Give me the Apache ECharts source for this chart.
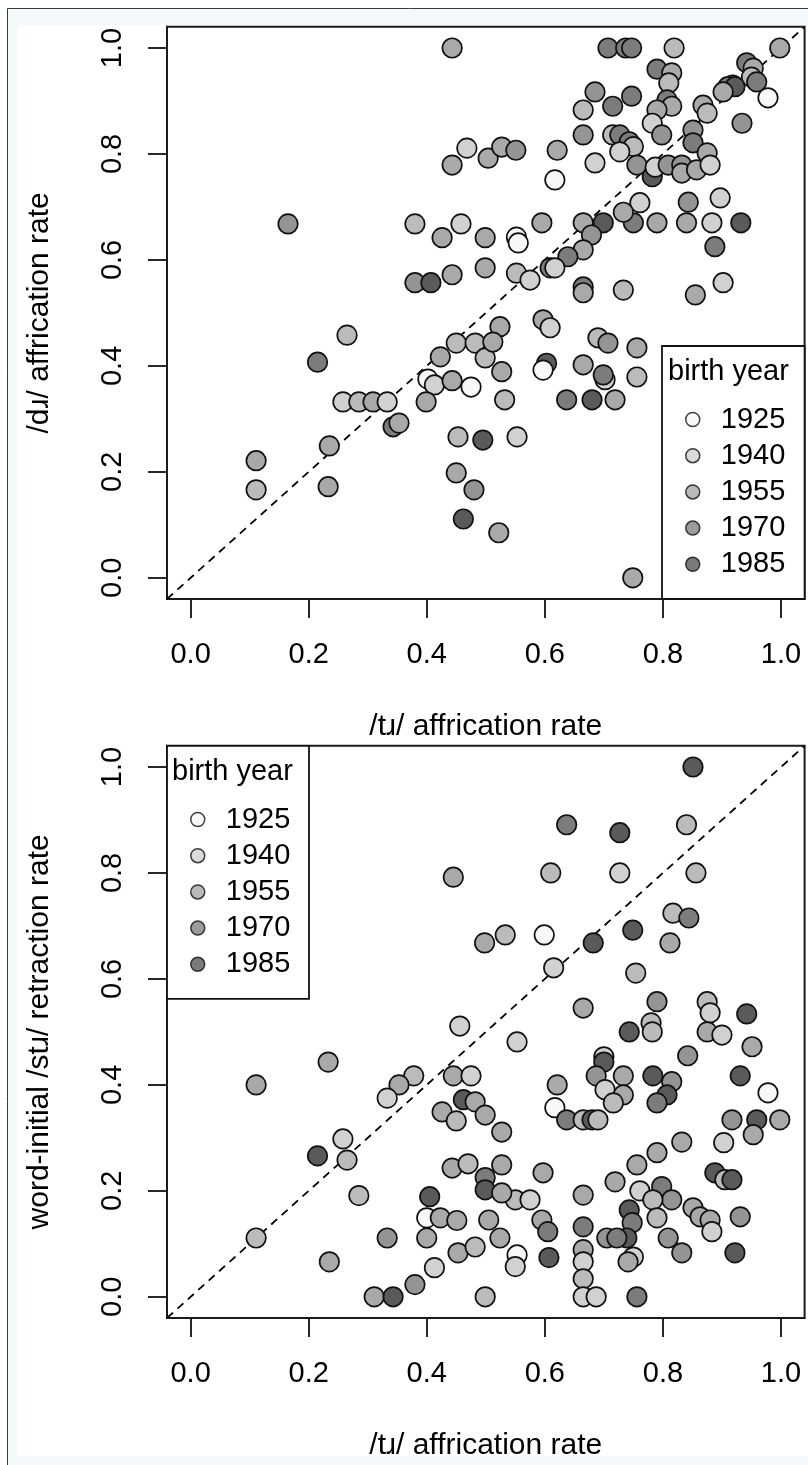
<!DOCTYPE html>
<html><head><meta charset="utf-8">
<script src="https://cdn.jsdelivr.net/npm/echarts@6/dist/echarts.min.js"></script>
<style>html,body{margin:0;padding:0;background:#fff}#c{width:808px;height:1465px}</style>
</head><body><div id="c"></div><script>
// ---- data ----
const tickValues = [0, 0.2, 0.4, 0.6, 0.8, 1.0];
const legendYears = [1925, 1940, 1955, 1970, 1985];
const xTitle = '/tɹ/ affrication rate';
const yTitleTop = '/dɹ/ affrication rate';
const yTitleBottom = 'word-initial /stɹ/ retraction rate';
const legendTitle = 'birth year';

// top panel: /tɹ/ rate (x), /dɹ/ rate (y), birth year
const topX = [0.443,0.468,0.443,0.504,0.165,0.380,0.426,0.458,0.499,0.380,0.407,0.443,0.499,0.707,0.737,0.747,0.819,0.998,0.790,0.815,0.810,0.942,0.953,0.950,0.959,0.918,0.910,0.922,0.902,0.978,0.685,0.747,0.665,0.715,0.807,0.815,0.790,0.782,0.798,0.868,0.875,0.934,0.665,0.715,0.727,0.743,0.750,0.727,0.851,0.851,0.875,0.756,0.782,0.787,0.809,0.832,0.832,0.857,0.880,0.685,0.527,0.551,0.621,0.617,0.897,0.843,0.595,0.665,0.699,0.750,0.790,0.840,0.883,0.932,0.761,0.733,0.888,0.679,0.665,0.639,0.552,0.555,0.552,0.575,0.609,0.617,0.665,0.665,0.733,0.855,0.902,0.597,0.609,0.265,0.215,0.258,0.285,0.309,0.333,0.343,0.353,0.235,0.111,0.111,0.233,0.423,0.450,0.482,0.499,0.402,0.413,0.443,0.475,0.399,0.453,0.495,0.450,0.480,0.462,0.522,0.524,0.690,0.707,0.756,0.512,0.527,0.603,0.597,0.665,0.702,0.699,0.756,0.532,0.637,0.680,0.719,0.553,0.749];
const topY = [1.000,0.811,0.779,0.792,0.668,0.668,0.642,0.668,0.642,0.557,0.557,0.572,0.585,1.000,1.000,1.000,1.000,1.000,0.960,0.953,0.934,0.972,0.962,0.945,0.936,0.930,0.927,0.927,0.917,0.906,0.917,0.909,0.883,0.890,0.902,0.890,0.883,0.858,0.836,0.892,0.877,0.858,0.836,0.836,0.836,0.823,0.814,0.804,0.845,0.821,0.802,0.779,0.757,0.775,0.779,0.779,0.764,0.770,0.779,0.783,0.813,0.807,0.807,0.751,0.717,0.709,0.670,0.670,0.670,0.670,0.670,0.670,0.670,0.670,0.708,0.690,0.625,0.647,0.619,0.606,0.643,0.632,0.575,0.562,0.585,0.585,0.549,0.538,0.543,0.534,0.557,0.487,0.472,0.458,0.407,0.332,0.332,0.332,0.332,0.285,0.292,0.249,0.221,0.166,0.172,0.417,0.443,0.443,0.415,0.375,0.364,0.372,0.360,0.332,0.266,0.260,0.198,0.166,0.111,0.085,0.474,0.453,0.443,0.434,0.445,0.389,0.405,0.392,0.402,0.374,0.383,0.379,0.336,0.336,0.336,0.336,0.266,0.000];
const topYear = [1955,1940,1955,1955,1963,1948,1955,1940,1955,1963,1985,1955,1955,1972,1972,1972,1948,1955,1972,1955,1948,1972,1955,1948,1972,1955,1972,1985,1955,1925,1963,1972,1948,1972,1972,1955,1955,1940,1963,1955,1948,1963,1963,1948,1972,1972,1948,1940,1963,1972,1955,1963,1985,1940,1963,1963,1955,1955,1940,1940,1955,1963,1955,1925,1940,1963,1955,1955,1985,1972,1955,1955,1940,1985,1940,1955,1972,1963,1955,1972,1925,1925,1948,1940,1972,1940,1972,1955,1948,1955,1940,1955,1940,1948,1972,1940,1948,1955,1940,1972,1955,1955,1955,1948,1955,1955,1948,1948,1948,1925,1940,1955,1925,1955,1948,1985,1955,1963,1985,1955,1955,1948,1963,1955,1955,1955,1985,1925,1955,1940,1972,1948,1948,1972,1985,1955,1940,1955];

// bottom panel: /tɹ/ rate (x), /stɹ/ retraction rate (y), birth year
const botX = [0.445,0.498,0.851,0.637,0.727,0.840,0.610,0.727,0.856,0.817,0.844,0.533,0.599,0.682,0.749,0.812,0.615,0.754,0.665,0.790,0.875,0.880,0.942,0.456,0.233,0.111,0.378,0.353,0.333,0.445,0.475,0.462,0.482,0.426,0.450,0.499,0.258,0.265,0.215,0.285,0.443,0.470,0.499,0.499,0.405,0.400,0.423,0.451,0.505,0.333,0.400,0.453,0.482,0.111,0.235,0.413,0.380,0.311,0.343,0.499,0.743,0.780,0.782,0.875,0.900,0.951,0.553,0.842,0.700,0.700,0.687,0.733,0.702,0.733,0.716,0.783,0.815,0.807,0.790,0.931,0.978,0.621,0.617,0.637,0.665,0.680,0.690,0.917,0.959,0.998,0.953,0.903,0.832,0.790,0.756,0.719,0.761,0.798,0.815,0.783,0.888,0.905,0.917,0.851,0.863,0.880,0.883,0.931,0.922,0.832,0.809,0.790,0.743,0.748,0.739,0.705,0.722,0.750,0.741,0.756,0.665,0.665,0.665,0.665,0.665,0.665,0.687,0.607,0.597,0.550,0.575,0.527,0.527,0.524,0.595,0.605,0.553,0.550,0.527];
const botY = [0.792,0.668,1.000,0.891,0.876,0.891,0.800,0.800,0.800,0.724,0.715,0.683,0.683,0.668,0.692,0.668,0.621,0.611,0.545,0.557,0.557,0.536,0.534,0.511,0.443,0.400,0.417,0.400,0.375,0.417,0.417,0.372,0.368,0.349,0.332,0.343,0.298,0.258,0.266,0.191,0.243,0.251,0.225,0.202,0.189,0.149,0.149,0.144,0.145,0.111,0.111,0.083,0.094,0.111,0.066,0.055,0.023,0.000,0.000,0.000,0.500,0.517,0.500,0.500,0.494,0.472,0.481,0.455,0.453,0.443,0.417,0.417,0.391,0.381,0.366,0.417,0.406,0.381,0.366,0.417,0.385,0.400,0.357,0.334,0.334,0.334,0.334,0.334,0.334,0.334,0.306,0.291,0.292,0.272,0.249,0.217,0.200,0.208,0.183,0.183,0.234,0.221,0.221,0.168,0.151,0.145,0.123,0.151,0.083,0.083,0.111,0.149,0.164,0.140,0.111,0.111,0.111,0.075,0.066,0.000,0.192,0.132,0.089,0.066,0.034,0.000,0.000,0.074,0.234,0.183,0.183,0.196,0.249,0.111,0.145,0.123,0.079,0.057,0.311];
const botYear = [1955,1955,1985,1972,1985,1948,1948,1940,1948,1948,1972,1948,1925,1985,1985,1955,1940,1948,1955,1963,1948,1940,1985,1940,1955,1955,1948,1955,1940,1955,1940,1985,1955,1955,1948,1955,1940,1948,1985,1948,1955,1948,1972,1985,1985,1925,1955,1955,1955,1963,1955,1955,1948,1948,1955,1940,1963,1955,1985,1948,1985,1948,1948,1955,1940,1955,1940,1963,1940,1985,1963,1955,1940,1955,1948,1985,1963,1985,1972,1985,1925,1955,1925,1972,1948,1985,1948,1963,1985,1955,1955,1940,1955,1955,1955,1955,1940,1972,1963,1948,1985,1948,1985,1955,1955,1955,1940,1963,1985,1963,1963,1948,1985,1972,1985,1963,1972,1940,1955,1972,1955,1972,1955,1940,1948,1940,1940,1985,1955,1948,1940,1955,1955,1955,1955,1972,1925,1940,1955];

// ---- helpers ----
const FONT = '"Liberation Sans", Arial, "DejaVu Sans", sans-serif';
function grayOf(year) {
  const v = Math.max(0, Math.min(255, Math.round(248 - (year - 1925) * 158 / 60)));
  const h = v.toString(16).padStart(2, '0');
  return '#' + h + h + h;
}
function zip(xs, ys, yrs) { return xs.map((x, i) => [x, ys[i], yrs[i]]); }

const chart = echarts.init(document.getElementById('c'), null, {renderer: 'canvas'});

const gridTop = {left: 167, top: 26.8, width: 637.6, height: 572.2};
const gridBot = {left: 167, top: 745.8, width: 637.6, height: 572.2};

const tickStyle = {color: '#111', width: 1.8};
function mkX(idx) {
  return {
    gridIndex: idx, type: 'value', min: -0.04, max: 1.04,
    name: xTitle, nameLocation: 'middle', nameGap: 113,
    nameTextStyle: {fontSize: 30, fontFamily: FONT, color: '#000'},
    axisLine: {show: true, onZero: false, lineStyle: {color: '#1a1a1a', width: 2}},
    splitLine: {show: false},
    axisTick: {show: true, inside: false, length: 19, customValues: tickValues, lineStyle: tickStyle},
    axisLabel: {customValues: tickValues, margin: 41, fontSize: 29, fontFamily: FONT, color: '#000', formatter: v => v.toFixed(1)}
  };
}
function mkY(idx, title) {
  return {
    gridIndex: idx, type: 'value', min: -0.04, max: 1.04,
    name: title, nameLocation: 'middle', nameGap: 112, nameRotate: 90,
    nameTextStyle: {fontSize: 30, fontFamily: FONT, color: '#000'},
    axisLine: {show: true, onZero: false, lineStyle: {color: '#1a1a1a', width: 2}},
    splitLine: {show: false},
    axisTick: {show: true, inside: false, length: 19, customValues: tickValues, lineStyle: tickStyle},
    axisLabel: {customValues: tickValues, margin: 40, rotate: 90, fontSize: 29, fontFamily: FONT, color: '#000', formatter: v => v.toFixed(1)}
  };
}
function diag(idx) {
  return {type: 'line', xAxisIndex: idx, yAxisIndex: idx, data: [[-0.04, -0.04], [1.04, 1.04]],
    symbol: 'none', silent: true, z: 1, animation: false,
    lineStyle: {color: '#000', width: 1.8, type: [8, 6]}};
}
function pts(idx, xs, ys, yrs) {
  return {type: 'scatter', xAxisIndex: idx, yAxisIndex: idx, data: zip(xs, ys, yrs),
    symbol: 'circle', symbolSize: 19.5, z: 3, animation: false,
    itemStyle: {color: p => grayOf(p.data[2]), borderColor: '#111', borderWidth: 1.7, opacity: 1}};
}
const legendSeries = legendYears.map(y => ({
  type: 'scatter', name: String(y), xAxisIndex: 0, yAxisIndex: 0, data: [],
  itemStyle: {color: grayOf(y), borderColor: '#111', borderWidth: 1.5}
}));
function mkLegend(left, top) {
  return {
    orient: 'vertical', left: left, top: top, padding: 0, z: 20,
    data: legendYears.map(String), icon: 'circle', itemWidth: 14, itemHeight: 14, itemGap: 7.2,
    selectedMode: false,
    itemStyle: {borderColor: '#111', borderWidth: 1.5},
    textStyle: {fontSize: 29, fontFamily: FONT, color: '#000', lineHeight: 29, padding: [0, 0, 0, 16]}
  };
}

chart.setOption({
  backgroundColor: '#ffffff',
  animation: false,
  grid: [
    Object.assign({show: true, borderColor: '#1a1a1a', borderWidth: 2, backgroundColor: '#fff', z: 1}, gridTop),
    Object.assign({show: true, borderColor: '#1a1a1a', borderWidth: 2, backgroundColor: '#fff', z: 1}, gridBot)
  ],
  xAxis: [mkX(0), mkX(1)],
  yAxis: [mkY(0, yTitleTop), mkY(1, yTitleBottom)],
  legend: [mkLegend(685, 405), mkLegend(190, 805)],
  graphic: [
    {type: 'rect', z: -10, silent: true, shape: {x: 7.5, y: 8.5, width: 830, height: 1480}, style: {fill: '#f4f9fb', stroke: '#3a3a3a', lineWidth: 1}},
    {type: 'rect', z: -9, silent: true, shape: {x: 17, y: 25, width: 800, height: 1431}, style: {fill: '#ffffff'}},
    {type: 'rect', z: 15, silent: true, shape: {x: 662, y: 346, width: 142.6, height: 253}, style: {fill: '#fff', stroke: '#111', lineWidth: 1.8}},
    {type: 'text', z: 21, silent: true, style: {text: legendTitle, x: 668, y: 372, font: '29px ' + FONT, fill: '#000', verticalAlign: 'middle'}},
    {type: 'rect', z: 15, silent: true, shape: {x: 167, y: 745.8, width: 142, height: 253}, style: {fill: '#fff', stroke: '#111', lineWidth: 1.8}},
    {type: 'text', z: 21, silent: true, style: {text: legendTitle, x: 172, y: 772, font: '29px ' + FONT, fill: '#000', verticalAlign: 'middle'}}
  ],
  series: [diag(0), diag(1), pts(0, topX, topY, topYear), pts(1, botX, botY, botYear)].concat(legendSeries)
});
</script></body></html>
